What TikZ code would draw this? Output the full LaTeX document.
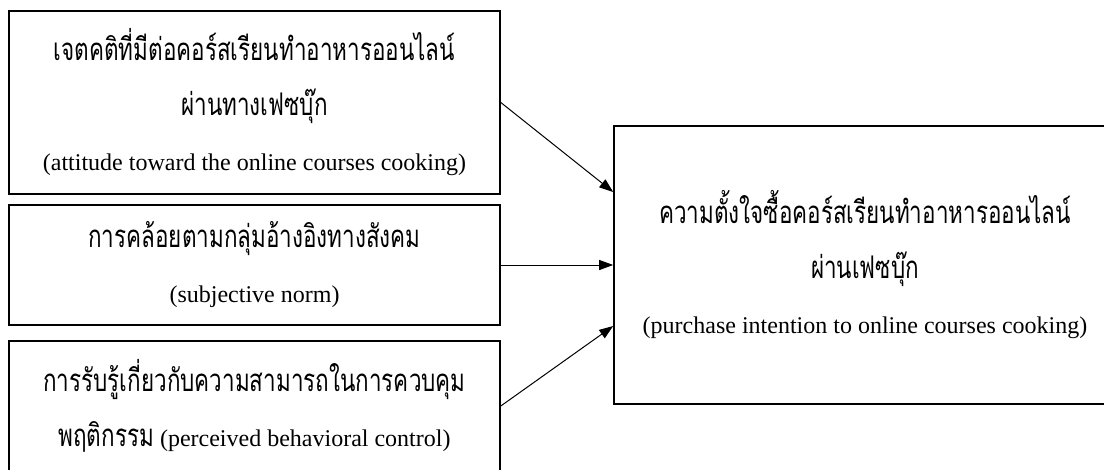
\documentclass[tikz,border=0pt]{standalone}
\usepackage{fontspec}
\setmainfont{Liberation Serif}
\newfontfamily\thaifont[Script=Thai,Scale=1.3,FakeStretch=0.72]{Loma}
\usepackage{tikz}
\usetikzlibrary{arrows.meta}

\begin{document}
\begin{tikzpicture}[x=1pt, y=-1pt,
    box/.style={draw, line width=1.6pt, align=center, inner sep=0pt,
      font=\fontsize{24pt}{55pt}\selectfont},
    link/.style={line width=1pt, -{Triangle[length=14pt, width=10pt]}}]
    \useasboundingbox (0,0) rectangle (1104,469);
    % factors on the left
    \node[box, minimum width=491pt, minimum height=183pt] (att) at (254.5,102.5)
      {{\thaifont เจตคติที่มีต่อคอร์สเรียนทำอาหารออนไลน์}\\
       {\thaifont ผ่านทางเฟซบุ๊ก}\\
       (attitude toward the online courses cooking)};
    \node[box, minimum width=491pt, minimum height=120pt] (norm) at (254.5,265)
      {{\thaifont การคล้อยตามกลุ่มอ้างอิงทางสังคม}\\
       (subjective norm)};
    \node[box, minimum width=491pt, minimum height=130pt] (ctrl) at (254.5,406)
      {{\thaifont การรับรู้เกี่ยวกับความสามารถในการควบคุม}\\
       {\thaifont พฤติกรรม} (perceived behavioral control)};
    % outcome
    \node[box, minimum width=502pt, minimum height=278pt] (intent) at (865,265)
      {{\thaifont ความตั้งใจซื้อคอร์สเรียนทำอาหารออนไลน์}\\
       {\thaifont ผ่านเฟซบุ๊ก}\\
       (purchase intention to online courses cooking)};
    \draw[link] (att.east) -- ([yshift=73pt]intent.west);
    \draw[link] (norm.east) -- (intent.west);
    \draw[link] (ctrl.east) -- ([yshift=-61pt]intent.west);
\end{tikzpicture}
\end{document}
